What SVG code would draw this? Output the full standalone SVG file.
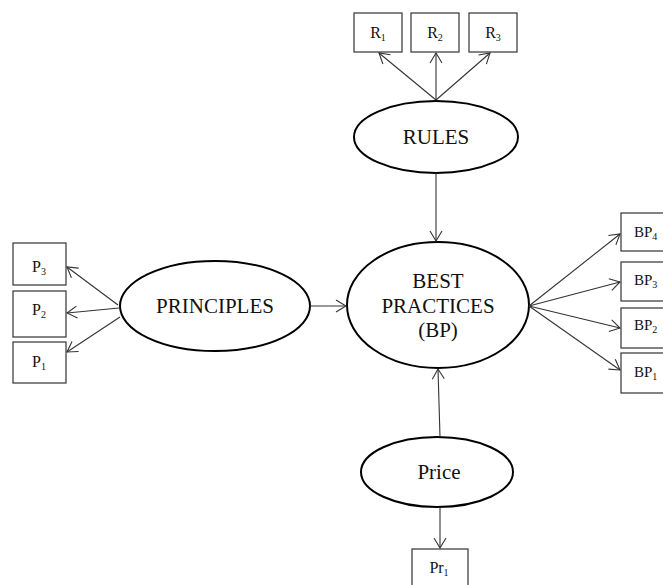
<svg xmlns="http://www.w3.org/2000/svg" width="663" height="585" viewBox="0 0 663 585">
<style>
.box{fill:#fff;stroke:#333;stroke-width:1.2}
.ell{fill:#fff;stroke:#000;stroke-width:2}
.lbl{font-family:"Liberation Serif","Times New Roman",serif;font-size:16px;fill:#111;text-anchor:middle}
.bpl{font-family:"Liberation Serif","Times New Roman",serif;font-size:15px;fill:#111}
.sub{font-size:10px}
.big{font-family:"Liberation Serif","Times New Roman",serif;font-size:21px;fill:#111;text-anchor:middle}
.conn line{stroke:#333;stroke-width:1.1;marker-end:url(#arr)}
</style>
<defs>
<marker id="arr" markerWidth="14" markerHeight="14" refX="11" refY="7" orient="auto" markerUnits="userSpaceOnUse">
<path d="M1,1 L11,7 L1,13" fill="none" stroke="#333" stroke-width="1.1"/>
</marker>
</defs>
<rect width="663" height="585" fill="#fff"/>
<g id="R1"><rect class="box" x="354" y="13" width="48" height="39"/><text class="lbl" x="378" y="38">R<tspan class="sub" dy="3">1</tspan></text></g>
<g id="R2"><rect class="box" x="411" y="13" width="48" height="39"/><text class="lbl" x="435" y="38">R<tspan class="sub" dy="3">2</tspan></text></g>
<g id="R3"><rect class="box" x="469" y="13" width="48" height="39"/><text class="lbl" x="493" y="38">R<tspan class="sub" dy="3">3</tspan></text></g>
<g id="RULES"><ellipse class="ell" cx="436" cy="137" rx="82" ry="36"/><text class="big" x="436" y="144">RULES</text></g>
<g id="BP"><ellipse class="ell" cx="438" cy="305" rx="91" ry="63"/><text class="big" x="438" y="288">BEST</text><text class="big" x="438" y="313">PRACTICES</text><text class="big" x="438" y="337">(BP)</text></g>
<g id="PRINCIPLES"><ellipse class="ell" cx="215" cy="306" rx="95" ry="45"/><text class="big" x="215" y="313">PRINCIPLES</text></g>
<g id="Price"><ellipse class="ell" cx="437" cy="472" rx="76" ry="35"/><text class="big" x="439" y="479">Price</text></g>
<g id="P3"><rect class="box" x="13" y="243" width="53" height="42"/><text class="lbl" x="39" y="272">P<tspan class="sub" dy="3">3</tspan></text></g>
<g id="P2"><rect class="box" x="13" y="291" width="53" height="46"/><text class="lbl" x="39" y="315">P<tspan class="sub" dy="3">2</tspan></text></g>
<g id="P1"><rect class="box" x="13" y="342" width="53" height="41"/><text class="lbl" x="39" y="367">P<tspan class="sub" dy="3">1</tspan></text></g>
<g id="BP4"><rect class="box" x="621" y="213" width="50" height="38"/><text class="bpl" x="634" y="237">BP<tspan class="sub" dy="3">4</tspan></text></g>
<g id="BP3"><rect class="box" x="621" y="262" width="50" height="39"/><text class="bpl" x="634" y="285">BP<tspan class="sub" dy="3">3</tspan></text></g>
<g id="BP2"><rect class="box" x="621" y="308" width="50" height="40"/><text class="bpl" x="634" y="330">BP<tspan class="sub" dy="3">2</tspan></text></g>
<g id="BP1"><rect class="box" x="621" y="353" width="50" height="40"/><text class="bpl" x="634" y="377">BP<tspan class="sub" dy="3">1</tspan></text></g>
<g id="Pr1"><rect class="box" x="412" y="549" width="56" height="42"/><text class="lbl" x="439" y="573">Pr<tspan class="sub" dy="3">1</tspan></text></g>
<g class="conn" id="connectors">
<line x1="436" y1="100" x2="379" y2="53"/>
<line x1="436" y1="100" x2="436" y2="53"/>
<line x1="436" y1="100" x2="490" y2="53"/>
<line x1="436" y1="173" x2="436" y2="241"/>
<line x1="310" y1="306" x2="346" y2="306"/>
<line x1="440" y1="437" x2="438" y2="369"/>
<line x1="440" y1="507" x2="440" y2="548"/>
<line x1="118" y1="305" x2="67" y2="267"/>
<line x1="119" y1="308" x2="67" y2="313"/>
<line x1="120" y1="317" x2="67" y2="352"/>
<line x1="529" y1="306" x2="620" y2="234"/>
<line x1="529" y1="306" x2="620" y2="282"/>
<line x1="529" y1="306" x2="620" y2="328"/>
<line x1="529" y1="306" x2="620" y2="370"/>
</g>
</svg>
